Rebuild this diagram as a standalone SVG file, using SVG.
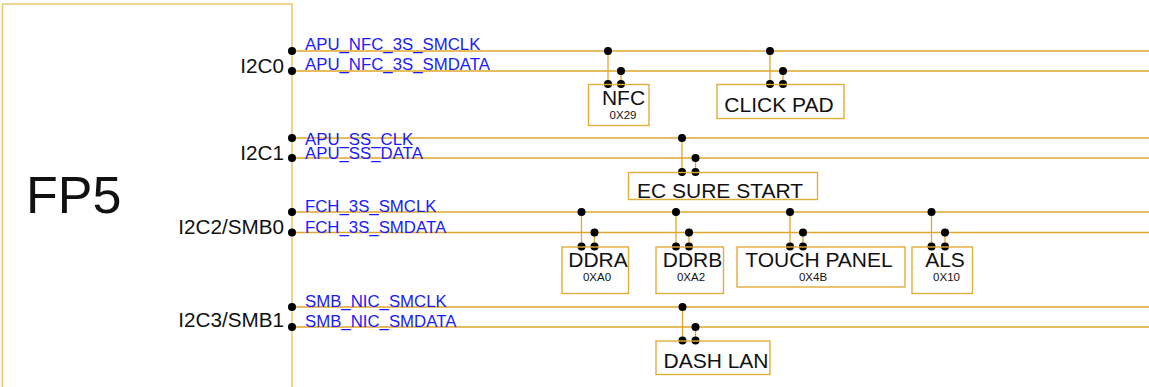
<svg xmlns="http://www.w3.org/2000/svg" width="1149" height="387" viewBox="0 0 1149 387">
<style>
.frame{fill:none;stroke:#ebc870;stroke-width:1.6}
.box{fill:none;stroke:#e3ad3a;stroke-width:1.4}
.net{fill:none;stroke:#e0a52c;stroke-width:1.3}
.dot{fill:#000}
.pin{font-family:"Liberation Sans",Arial,sans-serif;font-size:20.7px;fill:#111;text-anchor:end}
.sig{font-family:"Liberation Sans",Arial,sans-serif;font-size:16.8px;fill:#1a1aff}
.lbl{font-family:"Liberation Sans",Arial,sans-serif;font-size:21px;fill:#111;text-anchor:middle}
.sub{font-family:"Liberation Sans",Arial,sans-serif;font-size:11.5px;fill:#111;text-anchor:middle}
</style>
<rect width="1149" height="387" fill="#fff"/>
<g id="fp5">
<path class="frame" d="M2.5,392 V4 H292 V392"/>
<text x="26" y="213" font-family="'Liberation Sans',Arial,sans-serif" font-size="52" fill="#111">FP5</text>
<text class="pin" x="284" y="72.5">I2C0</text>
<text class="pin" x="284" y="159.5">I2C1</text>
<text class="pin" x="284" y="233.5">I2C2/SMB0</text>
<text class="pin" x="284" y="327">I2C3/SMB1</text>
</g>
<g id="connectors">
<path class="net" d="M292,51H1149M292,71H1149M292,138H1149M292,158H1149M292,212H1149M292,232.5H1149M292,307H1149M292,327H1149"/>
<path class="net" d="M608,51V84M621,71V84M770,51V84M783,71V84M682,138V172M695.5,158V172M581.5,212V246.5M594.5,232.5V246.5M676,212V246.5M689,232.5V246.5M790,212V246.5M803,232.5V246.5M931.5,212V246.5M945,232.5V246.5M682.5,307V340.5M695.5,327V340.5"/>
<g class="dot">
<circle cx="292" cy="51" r="4"/><circle cx="292" cy="71" r="4"/>
<circle cx="292" cy="138" r="4"/><circle cx="292" cy="158" r="4"/>
<circle cx="292" cy="212" r="4"/><circle cx="292" cy="232.5" r="4"/>
<circle cx="292" cy="307" r="4"/><circle cx="292" cy="327" r="4"/>
<circle cx="608" cy="51" r="4"/><circle cx="621" cy="71" r="4"/><circle cx="608" cy="84" r="4"/><circle cx="621" cy="84" r="4"/>
<circle cx="770" cy="51" r="4"/><circle cx="783" cy="71" r="4"/><circle cx="770" cy="84" r="4"/><circle cx="783" cy="84" r="4"/>
<circle cx="682" cy="138" r="4"/><circle cx="695.5" cy="158" r="4"/><circle cx="682" cy="172" r="4"/><circle cx="695.5" cy="172" r="4"/>
<circle cx="581.5" cy="212" r="4"/><circle cx="594.5" cy="232.5" r="4"/><circle cx="581.5" cy="246.5" r="4"/><circle cx="594.5" cy="246.5" r="4"/>
<circle cx="676" cy="212" r="4"/><circle cx="689" cy="232.5" r="4"/><circle cx="676" cy="246.5" r="4"/><circle cx="689" cy="246.5" r="4"/>
<circle cx="790" cy="212" r="4"/><circle cx="803" cy="232.5" r="4"/><circle cx="790" cy="246.5" r="4"/><circle cx="803" cy="246.5" r="4"/>
<circle cx="931.5" cy="212" r="4"/><circle cx="945" cy="232.5" r="4"/><circle cx="931.5" cy="246.5" r="4"/><circle cx="945" cy="246.5" r="4"/>
<circle cx="682.5" cy="307" r="4"/><circle cx="695.5" cy="327" r="4"/><circle cx="682.5" cy="340.5" r="4"/><circle cx="695.5" cy="340.5" r="4"/>
</g>
<text class="sig" x="305" y="49.5">APU_NFC_3S_SMCLK</text>
<text class="sig" x="305" y="70">APU_NFC_3S_SMDATA</text>
<text class="sig" x="305" y="144.5">APU_SS_CLK</text>
<text class="sig" x="305" y="159">APU_SS_DATA</text>
<text class="sig" x="305" y="211.5">FCH_3S_SMCLK</text>
<text class="sig" x="305" y="232.5">FCH_3S_SMDATA</text>
<text class="sig" x="305" y="306.5">SMB_NIC_SMCLK</text>
<text class="sig" x="305" y="326.5">SMB_NIC_SMDATA</text>
</g>
<g id="nfc">
<rect class="box" x="588.5" y="84.5" width="60.5" height="41"/>
<text class="lbl" x="623.5" y="105">NFC</text>
<text class="sub" x="623" y="118.5">0X29</text>
</g>
<g id="clickpad">
<rect class="box" x="717" y="84.5" width="127" height="34"/>
<text class="lbl" x="779" y="112">CLICK PAD</text>
</g>
<g id="ecsurestart">
<rect class="box" x="628.5" y="172.5" width="189" height="27"/>
<text class="lbl" x="720" y="198">EC SURE START</text>
</g>
<g id="ddra">
<rect class="box" x="562" y="247" width="66.5" height="46.5"/>
<text class="lbl" x="598" y="267">DDRA</text>
<text class="sub" x="597" y="280.5">0XA0</text>
</g>
<g id="ddrb">
<rect class="box" x="656" y="247" width="67.5" height="46.5"/>
<text class="lbl" x="692.5" y="267">DDRB</text>
<text class="sub" x="691" y="280.5">0XA2</text>
</g>
<g id="touchpanel">
<rect class="box" x="737" y="247" width="168" height="40"/>
<text class="lbl" x="819" y="267">TOUCH PANEL</text>
<text class="sub" x="813" y="280.5">0X4B</text>
</g>
<g id="als">
<rect class="box" x="912" y="247" width="60.5" height="46.5"/>
<text class="lbl" x="945" y="267">ALS</text>
<text class="sub" x="946.5" y="280.5">0X10</text>
</g>
<g id="dashlan">
<rect class="box" x="656" y="341" width="114" height="33.5"/>
<text class="lbl" x="716" y="368">DASH LAN</text>
</g>
</svg>
